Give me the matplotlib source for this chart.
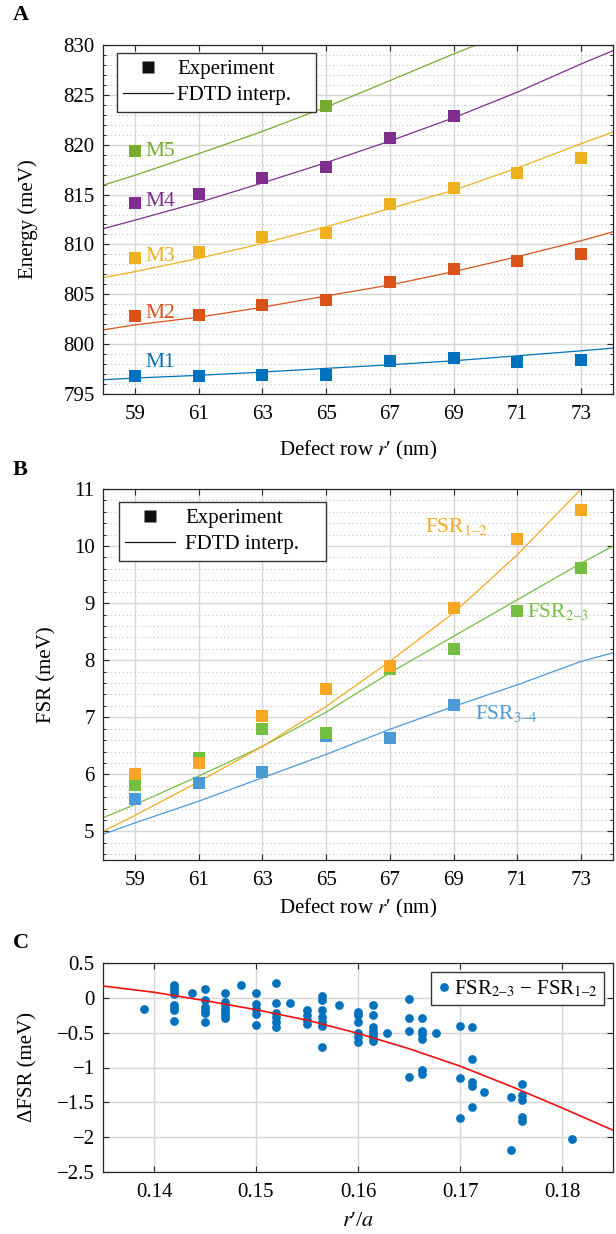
import matplotlib
matplotlib.use('Agg')
import matplotlib.pyplot as plt
from matplotlib.ticker import MultipleLocator, FixedLocator
from matplotlib.lines import Line2D

plt.rcParams['font.family'] = ['Liberation Serif', 'DejaVu Serif']
plt.rcParams['mathtext.fontset'] = 'stix'
plt.rcParams['font.size'] = 15
plt.rcParams['axes.unicode_minus'] = True

# ---------------- data ----------------
rows = [59, 61, 63, 65, 67, 69, 71, 73]
rows_short = [59, 61, 63, 65, 67, 69]
rows_m5 = [59, 65]

exp_m1 = [796.83, 796.77, 796.87, 796.90, 798.33, 798.57, 798.20, 798.40]
exp_m2 = [802.83, 802.93, 803.90, 804.40, 806.20, 807.50, 808.33, 809.03]
exp_m3 = [808.67, 809.20, 810.70, 811.10, 814.03, 815.70, 817.20, 818.70]
exp_m4 = [814.20, 815.10, 816.70, 817.80, 820.70, 822.90]
exp_m5 = [819.37, 823.93]

fit_x = [58, 59, 61, 63, 65, 67, 69, 71, 73, 74]
fit_m1 = [796.43, 796.60, 796.87, 797.20, 797.57, 797.93, 798.33, 798.83, 799.33, 799.60]
fit_m2 = [801.43, 801.93, 802.70, 803.70, 804.83, 805.93, 807.27, 808.77, 810.37, 811.27]
fit_m3 = [806.67, 807.27, 808.60, 810.10, 811.77, 813.60, 815.43, 817.67, 820.10, 821.27]
fit_m4 = [811.57, 812.43, 814.20, 816.17, 818.20, 820.37, 822.70, 825.27, 828.10, 829.43]
fit_m5_x = [58, 59, 61, 63, 65, 67, 69, 69.7]
fit_m5 = [815.93, 816.93, 819.10, 821.33, 823.77, 826.43, 829.10, 830.0]

mode_labels = ['M1', 'M2', 'M3', 'M4', 'M5']
mode_label_y = [798.2, 803.1, 808.8, 814.3, 819.3]

fsr12 = [6.01, 6.20, 7.03, 7.49, 7.90, 8.92, 10.13, 10.64]
fsr23 = [5.82, 6.29, 6.80, 6.72, 7.84, 8.20, 8.86, 9.62]
fsr34 = [5.57, 5.85, 6.04, 6.67, 6.63, 7.22]
fit12_x = [58, 59, 61, 63, 65, 67, 69, 71, 73]
fit12 = [5.00, 5.28, 5.87, 6.49, 7.19, 7.98, 8.83, 9.85, 11.00]
fit23 = [5.24, 5.47, 5.97, 6.49, 7.09, 7.78, 8.42, 9.06, 9.70, 10.00]
fit34 = [4.95, 5.15, 5.53, 5.94, 6.35, 6.79, 7.19, 7.57, 7.98, 8.13]

# panel C: columns of measurements (r'/a) and their dFSR values
c_cols = [0.139, 0.142, 0.1437, 0.145, 0.147, 0.1485, 0.150, 0.152, 0.1533,
          0.155, 0.1565, 0.1581, 0.160, 0.1615, 0.1628, 0.165, 0.1663,
          0.1676, 0.170, 0.1712, 0.1724, 0.175, 0.1761, 0.181]
c_vals = [
    [-0.16],
    [0.19, 0.14, 0.10, 0.06, -0.10, -0.14, -0.18, -0.33],
    [0.07],
    [0.12, -0.03, -0.13, -0.18, -0.22, -0.35],
    [0.07, -0.06, -0.11, -0.16, -0.20, -0.25, -0.29],
    [0.18],
    [0.065, -0.09, -0.16, -0.23, -0.39],
    [0.21, -0.08, -0.22, -0.28, -0.35, -0.42],
    [-0.08],
    [-0.18, -0.25, -0.32, -0.37],
    [0.02, -0.03, -0.18, -0.28, -0.35, -0.40, -0.70],
    [-0.11],
    [-0.21, -0.25, -0.34, -0.51, -0.56, -0.63],
    [-0.10, -0.24, -0.42, -0.47, -0.52, -0.58, -0.62],
    [-0.50],
    [-0.02, -0.29, -0.48, -1.13],
    [-0.29, -0.47, -0.52, -0.59, -1.04, -1.10],
    [-0.50],
    [-0.40, -1.15, -1.73],
    [-0.42, -0.88, -1.21, -1.26, -1.57],
    [-1.35],
    [-1.43, -2.19],
    [-1.24, -1.40, -1.46, -1.71, -1.77],
    [-2.03],
]
cfit_x = [0.135, 0.14, 0.145, 0.15, 0.155, 0.16, 0.165, 0.17, 0.175, 0.18, 0.185]
cfit_y = [0.17, 0.08, -0.04, -0.17, -0.32, -0.51, -0.73, -0.98, -1.27, -1.58, -1.90]

c_yticks = [0.5, 0, -0.5, -1, -1.5, -2, -2.5]
c_yticklabels = ['0.5', '0', '\u22120.5', '\u22121', '\u22121.5', '\u22122', '\u22122.5']
c_xticks = [0.14, 0.15, 0.16, 0.17, 0.18]
c_xticklabels = ['0.14', '0.15', '0.16', '0.17', '0.18']

# ---------------- style ----------------
colA = ['#0072BD', '#D95319', '#EDB120', '#7E2F8E', '#77AC30']
c12, c23, c34 = '#F7A823', '#74BE42', '#4B9AD6'
spine_col = '#262626'
W, H = 616, 1234

fig = plt.figure(figsize=(6.16, 12.34), dpi=100)


def frac(left, top, right, bottom):
    return [left / W, 1 - bottom / H, (right - left) / W, (bottom - top) / H]


def style_axes(ax, minor=True):
    ax.set_axisbelow(True)
    for s in ax.spines.values():
        s.set_color(spine_col)
        s.set_linewidth(0.9)
    ax.tick_params(which='both', direction='in', top=True, right=True,
                   color=spine_col)
    ax.tick_params(which='major', length=4, width=0.8)
    ax.tick_params(which='minor', length=2.5, width=0.7)
    ax.tick_params(axis='x', which='both', top=True, pad=8, labelsize=15)
    ax.tick_params(axis='y', which='both', pad=6, labelsize=15)
    ax.grid(True, which='major', color='#d6d6d6', linewidth=1.0, linestyle='-')
    if minor:
        ax.grid(True, which='minor', axis='y', color='#b8b8b8',
                linewidth=0.7, linestyle=(0, (1, 3)))


legend_handles = [
    Line2D([], [], marker='s', color='none', markerfacecolor='#111111',
           markeredgecolor='none', markersize=8),
    Line2D([], [], color='#111111', linewidth=0.9),
]


def style_legend(leg):
    fr = leg.get_frame()
    fr.set_edgecolor('#333333')
    fr.set_linewidth(1.0)
    fr.set_alpha(1.0)


xlab = "Defect row $r$\u2032 (nm)"

# ---------------- Panel A ----------------
axA = fig.add_axes(frac(103, 45, 613, 394))
style_axes(axA)
fitsA = [(fit_x, fit_m1), (fit_x, fit_m2), (fit_x, fit_m3), (fit_x, fit_m4), (fit_m5_x, fit_m5)]
expsA = [(rows, exp_m1), (rows, exp_m2), (rows, exp_m3), (rows_short, exp_m4), (rows_m5, exp_m5)]
for (fx, fy), (ex, ey), c in zip(fitsA, expsA, colA):
    axA.plot(fx, fy, color=c, linewidth=0.9, zorder=2)
    axA.plot(ex, ey, 's', color=c, markersize=8, markeredgewidth=0, zorder=3)
for lab, ly, c in zip(mode_labels, mode_label_y, colA):
    axA.text(59.33, ly, lab, color=c, fontsize=15.5, va='center', ha='left')
axA.set_xlim(58, 74)
axA.set_ylim(795, 830)
axA.xaxis.set_major_locator(FixedLocator(rows))
axA.yaxis.set_major_locator(MultipleLocator(5))
axA.yaxis.set_minor_locator(MultipleLocator(1))
axA.set_ylabel('Energy (meV)', fontsize=15)
axA.set_xlabel(xlab, fontsize=15)
axA.yaxis.set_label_coords(-0.127, 0.5)
axA.xaxis.set_label_coords(0.5, -0.13)
legA = axA.legend(legend_handles, ['Experiment', 'FDTD interp.'], loc='upper left',
                  bbox_to_anchor=(0.027, 0.0, 199 / 510, 0.977), mode='expand',
                  fancybox=False, fontsize=15,
                  handlelength=2.4, handletextpad=0.2, borderpad=0.3,
                  labelspacing=0.33, borderaxespad=0)
style_legend(legA)

# ---------------- Panel B ----------------
axB = fig.add_axes(frac(103, 489, 613, 860))
style_axes(axB)
axB.plot(fit_x, fit34, color=c34, linewidth=0.9, zorder=2)
axB.plot(fit_x, fit23, color=c23, linewidth=0.9, zorder=2)
axB.plot(fit12_x, fit12, color=c12, linewidth=0.9, zorder=2)
axB.plot(rows_short, fsr34, 's', color=c34, markersize=8, markeredgewidth=0, zorder=3)
axB.plot(rows, fsr23, 's', color=c23, markersize=8, markeredgewidth=0, zorder=3)
axB.plot(rows, fsr12, 's', color=c12, markersize=8, markeredgewidth=0, zorder=3)
axB.text(68.1, 10.35, 'FSR$_{1\u20132}$', color=c12, fontsize=15.5, ha='left', va='center')
axB.text(71.3, 8.86, 'FSR$_{2\u20133}$', color=c23, fontsize=15.5, ha='left', va='center')
axB.text(69.66, 7.07, 'FSR$_{3\u20134}$', color=c34, fontsize=15.5, ha='left', va='center')
axB.set_xlim(58, 74)
axB.set_ylim(4.5, 11)
axB.xaxis.set_major_locator(FixedLocator(rows))
axB.yaxis.set_major_locator(MultipleLocator(1))
axB.yaxis.set_minor_locator(MultipleLocator(0.2))
axB.set_ylabel('FSR (meV)', fontsize=15)
axB.set_xlabel(xlab, fontsize=15)
axB.yaxis.set_label_coords(-0.092, 0.5)
axB.xaxis.set_label_coords(0.5, -0.1)
legB = axB.legend(legend_handles, ['Experiment', 'FDTD interp.'], loc='upper left',
                  bbox_to_anchor=(0.031, 0.0, 207 / 510, 0.965), mode='expand',
                  fancybox=False, fontsize=15,
                  handlelength=2.4, handletextpad=0.5, borderpad=0.3,
                  labelspacing=0.33, borderaxespad=0)
style_legend(legB)

# ---------------- Panel C ----------------
axC = fig.add_axes(frac(103, 963, 613, 1172))
style_axes(axC, minor=False)
cx = [x for x, vals in zip(c_cols, c_vals) for _ in vals]
cy = [v for vals in c_vals for v in vals]
axC.plot(cx, cy, 'o', color='#0072BD', markersize=6.3, markeredgewidth=0,
         label='FSR$_{2\u20133}$ \u2212 FSR$_{1\u20132}$', zorder=3)
axC.plot(cfit_x, cfit_y, color='#F01010', linewidth=1.2, zorder=4)
axC.set_xlim(0.135, 0.185)
axC.set_ylim(-2.5, 0.5)
axC.set_xticks(c_xticks)
axC.set_xticklabels(c_xticklabels)
axC.set_yticks(c_yticks)
axC.set_yticklabels(c_yticklabels)
axC.set_ylabel('\u0394FSR (meV)', fontsize=15)
axC.set_xlabel("$r$\u2032/$a$", fontsize=16)
axC.yaxis.set_label_coords(-0.129, 0.5)
axC.xaxis.set_label_coords(0.5, -0.19)
legC = axC.legend(loc='upper right', bbox_to_anchor=(0.982, 0.957), fancybox=False,
                  fontsize=15, handlelength=0.6, handletextpad=0.2, borderpad=0.3,
                  borderaxespad=0)
style_legend(legC)

# panel letters
for lab, yc in [('A', 15.5), ('B', 470), ('C', 943)]:
    fig.text(13 / W, 1 - yc / H, lab, fontsize=16, fontweight='bold',
             ha='left', va='center')

fig.savefig('out.png', dpi=100)
